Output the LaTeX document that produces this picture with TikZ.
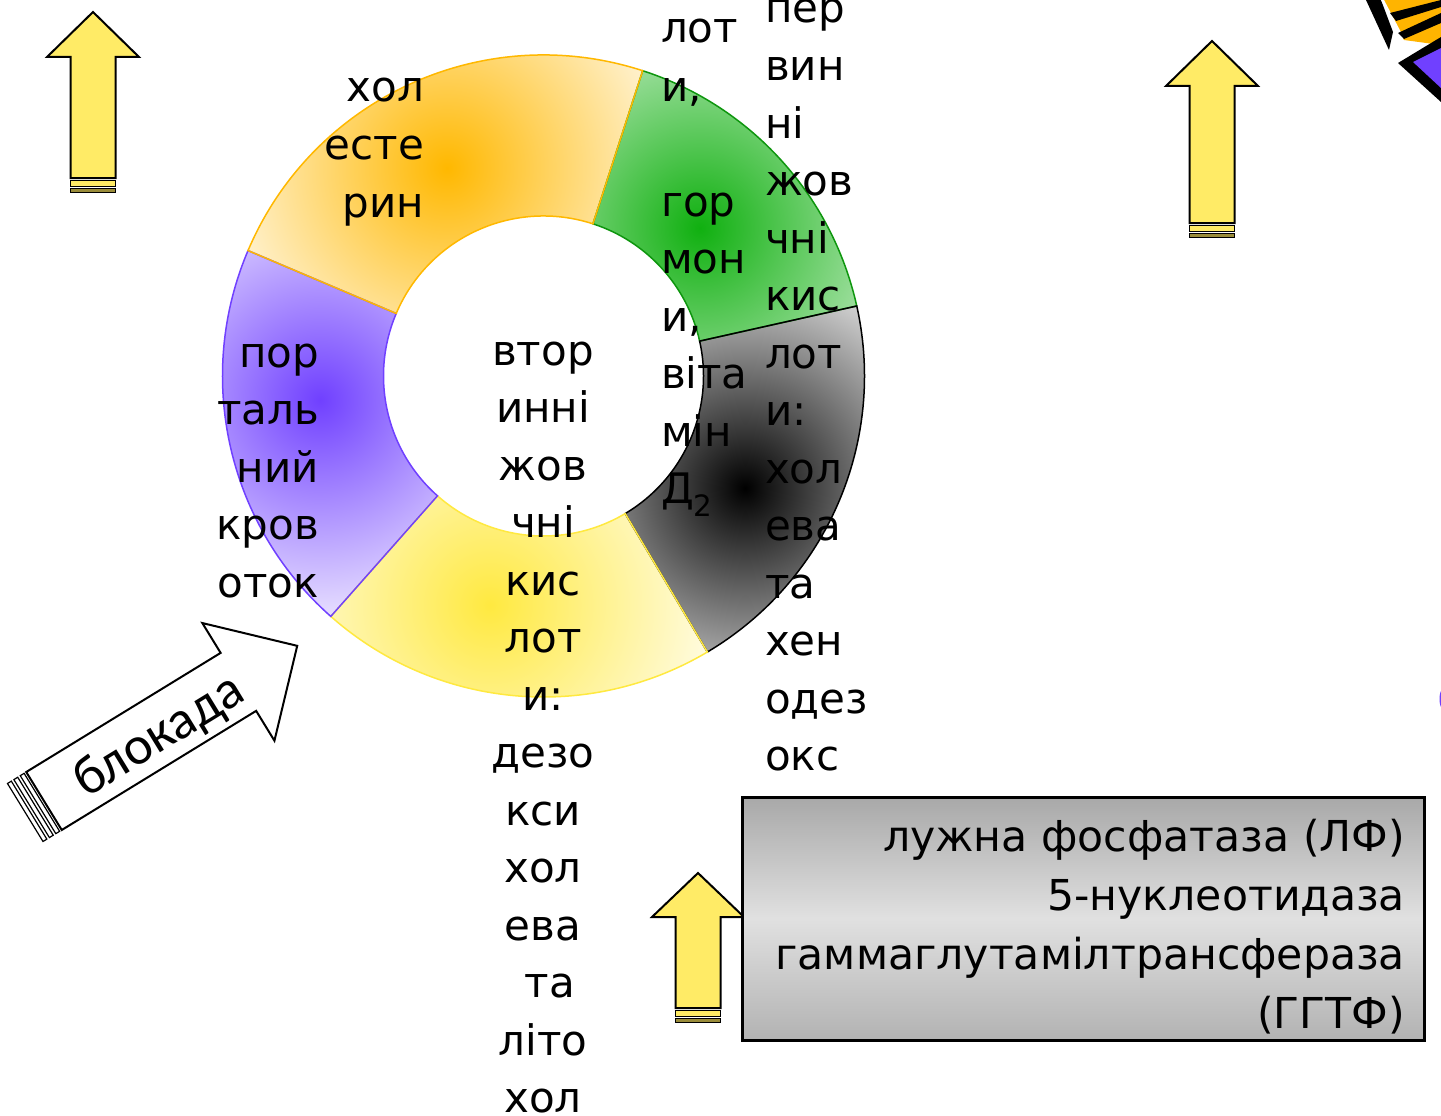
\documentclass[tikz,border=0pt]{standalone}
\usepackage{fontspec}
\setmainfont{DejaVu Sans}
\newfontfamily\arrowfont{Carlito}
\usetikzlibrary{calc}

\definecolor{segorange}{HTML}{FFB800}
\definecolor{seggreen}{HTML}{10B010}
\definecolor{segyellow}{HTML}{FFE940}
\definecolor{segpurple}{HTML}{7040FF}
\definecolor{arrowyellow}{HTML}{FFEB66}
\definecolor{arrowolive}{HTML}{9A8C3A}
\definecolor{tigorange}{HTML}{FFB400}

% one sector of the ring, angles in the (y-down) picture frame
\newcommand\ringseg[2]{($(C)+(#1:321)$) arc[start angle=#1, end angle=#2, radius=321]
  -- ($(C)+(#2:160)$) arc[start angle=#2, end angle=#1, radius=160] -- cycle}

% sector filled with a radial glow: angles, inner colour, outer colour, glow centre, glow radius
\newcommand\shadeseg[7]{%
  \begin{scope}
    \clip \ringseg{#1}{#2};
    \fill[#4] (C) circle (330);
    \shade[inner color=#3, outer color=#4] (#5,#6) circle (#7);
  \end{scope}}

% yellow block arrow pointing up: name, centre x, tip y, head base y, shaft bottom y
\newcommand\yellowup[5]{%
  \filldraw[yarrow] (#2,#3) coordinate (#1) -- (#2+46,#4) -- (#2+22.5,#4) -- (#2+22.5,#5)
     -- (#2-22.5,#5) -- (#2-22.5,#4) -- (#2-46,#4) -- cycle;
  \filldraw[ystripe] (#2-22.5,#5+2.5) rectangle (#2+22.5,#5+8);
  \filldraw[ystripe2] (#2-22.5,#5+10) rectangle (#2+22.5,#5+14.5);}

\begin{document}
\begin{tikzpicture}[x=1pt,y=-1pt,
  txt/.style={font=\fontsize{42}{50}\selectfont, inner sep=0pt, outer sep=0pt},
  boxtxt/.style={font=\fontsize{42.6}{50}\selectfont, inner sep=0pt, outer sep=0pt},
  yarrow/.style={fill=arrowyellow, draw=black, line width=2pt, line join=miter},
  ystripe/.style={fill=arrowyellow, draw=black, line width=1pt},
  ystripe2/.style={fill=arrowolive, draw=black, line width=1pt},
  barrow/.style={fill=white, draw=black, line width=2pt, line join=miter},
  bstripe/.style={fill=white, draw=black, line width=1.2pt},
  tag/.style={font=\arrowfont\fontsize{54}{60}\selectfont, inner sep=0pt}]

\useasboundingbox (0,0) rectangle (1441,1116);
\clip (0,0) rectangle (1441,1116);
\fill[white] (0,0) rectangle (1441,1116);

\coordinate (C) at (543.5,376);

% ---- ring sectors ----
\shadeseg{-72}{-12.6}{seggreen}{seggreen!28!white}{700}{228}{215}
\shadeseg{-12.6}{59.3}{black}{black!10!white}{745}{488}{235}
\shadeseg{59.3}{131.5}{segyellow}{segyellow!12!white}{490}{605}{235}
\shadeseg{131.5}{203}{segpurple}{segpurple!10!white}{320}{400}{235}
\shadeseg{-157}{-72}{segorange}{segorange!8!white}{447}{168}{250}

\draw[seggreen!85!black, line width=1.5pt] \ringseg{-72}{-12.6};
\draw[black, line width=1.5pt] \ringseg{-12.6}{59.3};
\draw[segyellow, line width=1.5pt] \ringseg{59.3}{131.5};
\draw[segpurple, line width=1.5pt] \ringseg{131.5}{203};
\draw[segorange, line width=1.5pt] \ringseg{-157}{-72};

% ---- texts in and around the ring ----
\foreach \w [count=\i from 0] in {хол,есте,рин}
  \node[txt, anchor=base east] (chol\i) at (424,102+57.5*\i) {\w};
\foreach \w [count=\i from 0] in {пор,таль,ний,кров,оток}
  \node[txt, anchor=base east] (port\i) at (319,367+57.5*\i) {\w};
\foreach \w [count=\i from 0] in {втор,инні,жов,чні,кис,лот,{и:},дезо,кси,хол,ева,{\ та},літо,хол}
  \node[txt, anchor=base] (sec\i) at (543,365+57.5*\i) {\w};
\foreach \y/\w [count=\i] in {43/лот,101/{и,},216/гор,273/мон,331/{и,},388/віта,446/мін,503/{Д\textsubscript{2}}}
  \node[txt, anchor=base west] (horm\i) at (661,\y) {\w};
\foreach \w [count=\i from 0] in {пер,вин,ні,жов,чні,кис,лот,{и:},хол,ева,та,хен,одез,окс}
  \node[txt, anchor=base west] (prim\i) at (765,23+57.5*\i) {\w};

% ---- yellow arrows ----
\yellowup{upA}{93}{12}{57}{178}
\yellowup{upB}{1212}{41}{86}{223}
\yellowup{upC}{698}{873}{917}{1008}

% ---- enzyme box ----
\node[draw=black, line width=3pt, minimum width=682pt, minimum height=243pt,
      top color=black!34!white, bottom color=black!30!white, middle color=black!12!white,
      inner sep=0pt] (enz) at (1083,918.5) {};
\foreach \y/\w [count=\i] in {851/{лужна фосфатаза (ЛФ)},910/5-нуклеотидаза,969/гаммаглутамілтрансфераза,1028/(ГГТФ)}
  \node[boxtxt, anchor=base east] (enz\i) at (1405,\y) {\w};

% ---- blockade arrow ----
\begin{scope}[shift={(44,801)}, rotate=31.5]
  \filldraw[barrow] (0,-34) -- (228,-34) -- (228,-69) -- (297,0) -- (228,69) -- (228,34) -- (0,34) -- cycle;
  \filldraw[bstripe] (-7,-34) rectangle (-2.5,34);
  \filldraw[bstripe] (-14.5,-34) rectangle (-10,34);
  \filldraw[bstripe] (-22,-34) rectangle (-17.5,34);
  \node[tag, rotate=31.5] (blk) at (132,6) {блокада};
\end{scope}

% ---- striped figure in the upper right corner ----
\fill[tigorange] (1382,0) -- (1441,0) -- (1441,45) -- (1404,40) -- cycle;
\fill[black] (1366,0) -- (1381,0) -- (1393,32) -- (1389,50) -- cycle;
\fill[white] (1381,0) -- (1384,0) -- (1404,38) -- (1401,38) -- cycle;
\fill[black] (1390,13) -- (1441,0) -- (1441,7) -- (1396,21) -- cycle;
\fill[black] (1398,33) -- (1441,13) -- (1441,23) -- (1404,39) -- cycle;
\fill[black] (1398,63) -- (1441,37) -- (1441,102) -- cycle;
\fill[segpurple] (1413,62) -- (1441,48) -- (1441,88) -- cycle;

% ---- small violet mark on the right edge ----
\fill[segpurple] (1443,699) ellipse (3.5 and 10);

\end{tikzpicture}
\end{document}
